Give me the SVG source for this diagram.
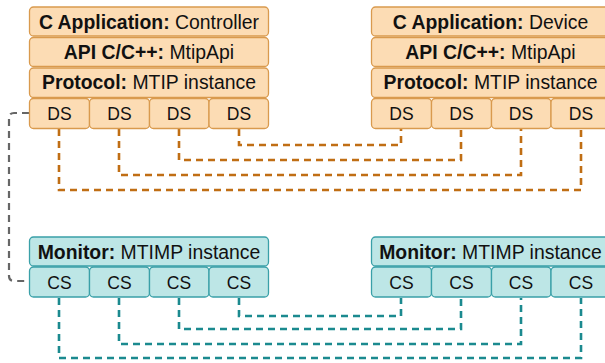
<svg xmlns="http://www.w3.org/2000/svg" width="605" height="363" viewBox="0 0 605 363">
<style>
.o{fill:#FCDCB4;stroke:#D99A4E;stroke-width:1.3}
.t{fill:#BDE6E6;stroke:#3AA0A8;stroke-width:1.3}
text{font-family:"Liberation Sans",Arial,sans-serif;fill:#111;text-anchor:middle}
.l{font-size:19.4px}
.s{font-size:17.5px}
.b{font-weight:bold}
.co{fill:none;stroke:#C06E14;stroke-width:2.6;stroke-dasharray:7 5}
.ct{fill:none;stroke:#1B8A8F;stroke-width:2.6;stroke-dasharray:7 5}
.cg{fill:none;stroke:#666;stroke-width:2.2;stroke-dasharray:7 5}
</style>
<rect width="605" height="363" fill="#fff"/>
<g id="connectors">
<path class="cg" d="M29 113 H14 Q9 113 9 118 V276 Q9 281 14 281 H29"/>
<path class="co" d="M239 129 V145 H401 V129"/>
<path class="co" d="M179 129 V160 H461 V129"/>
<path class="co" d="M119 129 V175 H521 V129"/>
<path class="co" d="M59 129 V190 H581 V129"/>
<path class="ct" d="M239 298 V316 H401 V298"/>
<path class="ct" d="M179 298 V329 H461 V298"/>
<path class="ct" d="M119 298 V344 H521 V298"/>
<path class="ct" d="M59 298 V358 H581 V298"/>
</g>
<g id="controller">
<g id="ctrl-app"><rect class="o" x="29.5" y="7" width="239" height="29" rx="4"/><text class="l" x="149" y="29"><tspan class="b">C Application:</tspan> Controller</text></g>
<g id="ctrl-api"><rect class="o" x="29.5" y="37.5" width="239" height="29" rx="4"/><text class="l" x="149" y="58.5"><tspan class="b">API C/C++:</tspan> MtipApi</text></g>
<g id="ctrl-proto"><rect class="o" x="29.5" y="68" width="239" height="29.5" rx="4"/><text class="l" x="149" y="88.5"><tspan class="b">Protocol:</tspan> MTIP instance</text></g>
<g id="ctrl-ds1"><rect class="o" x="29.5" y="98.5" width="60" height="30" rx="4"/><text class="s" x="59.5" y="120">DS</text></g>
<g id="ctrl-ds2"><rect class="o" x="89.5" y="98.5" width="60" height="30" rx="4"/><text class="s" x="119.5" y="120">DS</text></g>
<g id="ctrl-ds3"><rect class="o" x="149.5" y="98.5" width="59.5" height="30" rx="4"/><text class="s" x="179" y="120">DS</text></g>
<g id="ctrl-ds4"><rect class="o" x="209" y="98.5" width="59.5" height="30" rx="4"/><text class="s" x="239" y="120">DS</text></g>
</g>
<g id="device">
<g id="dev-app"><rect class="o" x="371.5" y="7" width="239" height="29" rx="4"/><text class="l" x="490.5" y="29"><tspan class="b">C Application:</tspan> Device</text></g>
<g id="dev-api"><rect class="o" x="371.5" y="37.5" width="239" height="29" rx="4"/><text class="l" x="490.5" y="58.5"><tspan class="b">API C/C++:</tspan> MtipApi</text></g>
<g id="dev-proto"><rect class="o" x="371.5" y="68" width="239" height="29.5" rx="4"/><text class="l" x="490.5" y="88.5"><tspan class="b">Protocol:</tspan> MTIP instance</text></g>
<g id="dev-ds1"><rect class="o" x="371.5" y="98.5" width="60" height="30" rx="4"/><text class="s" x="401.5" y="120">DS</text></g>
<g id="dev-ds2"><rect class="o" x="431.5" y="98.5" width="60" height="30" rx="4"/><text class="s" x="461.5" y="120">DS</text></g>
<g id="dev-ds3"><rect class="o" x="491.5" y="98.5" width="59.5" height="30" rx="4"/><text class="s" x="521" y="120">DS</text></g>
<g id="dev-ds4"><rect class="o" x="551" y="98.5" width="59.5" height="30" rx="4"/><text class="s" x="581" y="120">DS</text></g>
</g>
<g id="monitor-left">
<g id="mon-l"><rect class="t" x="29.5" y="237" width="239" height="29" rx="4"/><text class="l" x="149" y="258.5"><tspan class="b">Monitor:</tspan> MTIMP instance</text></g>
<g id="mon-l-cs1"><rect class="t" x="29.5" y="267" width="60" height="30" rx="4"/><text class="s" x="59.5" y="288.5">CS</text></g>
<g id="mon-l-cs2"><rect class="t" x="89.5" y="267" width="60" height="30" rx="4"/><text class="s" x="119.5" y="288.5">CS</text></g>
<g id="mon-l-cs3"><rect class="t" x="149.5" y="267" width="59.5" height="30" rx="4"/><text class="s" x="179" y="288.5">CS</text></g>
<g id="mon-l-cs4"><rect class="t" x="209" y="267" width="59.5" height="30" rx="4"/><text class="s" x="239" y="288.5">CS</text></g>
</g>
<g id="monitor-right">
<g id="mon-r"><rect class="t" x="371.5" y="237" width="239" height="29" rx="4"/><text class="l" x="490.5" y="258.5"><tspan class="b">Monitor:</tspan> MTIMP instance</text></g>
<g id="mon-r-cs1"><rect class="t" x="371.5" y="267" width="60" height="30" rx="4"/><text class="s" x="401.5" y="288.5">CS</text></g>
<g id="mon-r-cs2"><rect class="t" x="431.5" y="267" width="60" height="30" rx="4"/><text class="s" x="461.5" y="288.5">CS</text></g>
<g id="mon-r-cs3"><rect class="t" x="491.5" y="267" width="59.5" height="30" rx="4"/><text class="s" x="521" y="288.5">CS</text></g>
<g id="mon-r-cs4"><rect class="t" x="551" y="267" width="59.5" height="30" rx="4"/><text class="s" x="581" y="288.5">CS</text></g>
</g>
</svg>
